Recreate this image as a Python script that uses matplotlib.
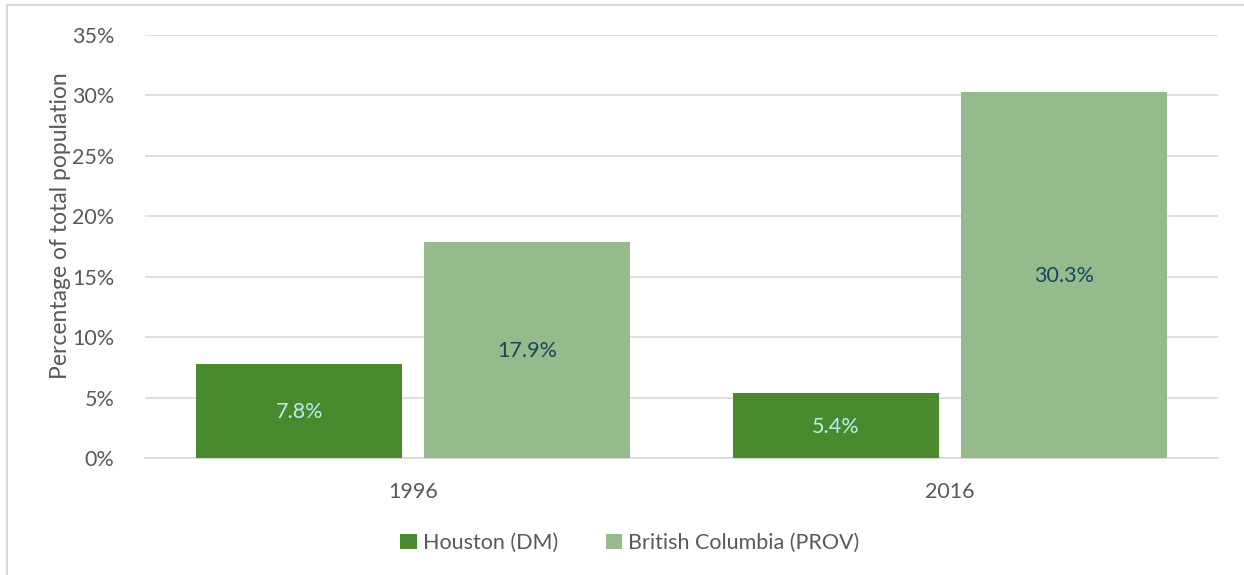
import matplotlib
matplotlib.use('Agg')
import matplotlib.pyplot as plt
import numpy as np
from matplotlib.patches import Rectangle

# Data
years = ['1996', '2016']
houston = [7.8, 5.4]
bc = [17.9, 30.3]
series_names = ['Houston (DM)', 'British Columbia (PROV)']

plt.rcParams['font.family'] = ['Lato', 'DejaVu Sans']

fig = plt.figure(figsize=(12.44, 5.75), dpi=100)
ax = fig.add_axes([145 / 1244, 1 - 458 / 575, (1218 - 145) / 1244, (458 - 35) / 575])

# outer chart frame
fig.patches.append(Rectangle((7 / 1244, -0.1), 1.2, 1 - 5 / 575 + 0.1,
                             transform=fig.transFigure, fill=False,
                             edgecolor='#d9d9d9', linewidth=1.5))

ind = np.arange(len(years))
width = 0.384
off = 0.2125
dark = '#4a8a2f'
light = '#95ba8b'
txt = '#595959'

b1 = ax.bar(ind - off, houston, width, color=dark, zorder=3, label=series_names[0])
b2 = ax.bar(ind + off, bc, width, color=light, zorder=3, label=series_names[1])

for r, v in zip(b1, houston):
    ax.text(r.get_x() + r.get_width() / 2, v / 2 - 0.1, '%.1f%%' % v, ha='center', va='center',
            color='#bdebef', fontsize=15.5, zorder=4)
for r, v in zip(b2, bc):
    ax.text(r.get_x() + r.get_width() / 2, v / 2 - 0.1, '%.1f%%' % v, ha='center', va='center',
            color='#17465e', fontsize=15.5, zorder=4)

ax.set_xlim(-0.5, 1.5)
ax.set_ylim(0, 35)
ax.set_yticks(np.arange(0, 36, 5))
ax.set_yticklabels(['%d%%' % t for t in range(0, 36, 5)])
ax.set_xticks(ind)
ax.set_xticklabels(years)
ax.grid(axis='y', color='#d9d9d9', linewidth=1.2, zorder=0)
for s in ['top', 'right', 'left']:
    ax.spines[s].set_visible(False)
ax.spines['bottom'].set_color('#d9d9d9')
ax.spines['bottom'].set_linewidth(1.2)
ax.tick_params(axis='both', length=0, labelsize=15.5, colors=txt)
ax.tick_params(axis='y', pad=22)
ax.tick_params(axis='x', pad=17)

ax.set_ylabel('Percentage of total population', fontsize=16.5, color=txt)
ax.yaxis.set_label_coords(-0.069, 0.55)

fig.legend(handles=[b1, b2], loc='center', bbox_to_anchor=(630 / 1244, 1 - 543 / 575), ncol=2,
           frameon=False, fontsize=15.5, labelcolor=txt, handlelength=0.75, handleheight=0.75,
           handletextpad=0.3, columnspacing=2.2)

fig.savefig('out.png', dpi=100)
